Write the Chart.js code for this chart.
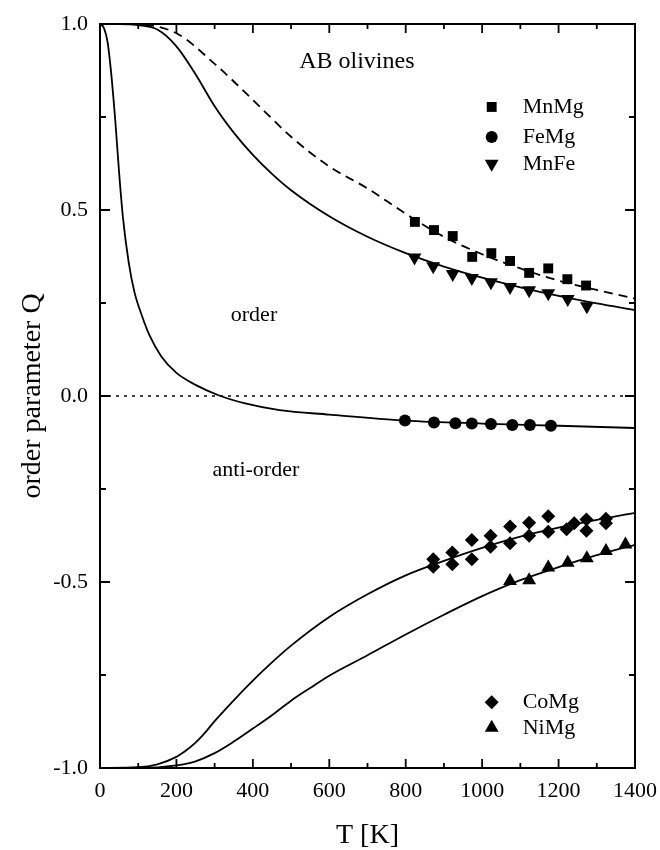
<!DOCTYPE html>
<html>
<head>
<meta charset="utf-8">
<title>AB olivines - order parameter Q</title>
<script src="https://cdn.jsdelivr.net/npm/chart.js@4.4.1/dist/chart.umd.min.js"></script>
<style>
  html, body { margin: 0; padding: 0; background: #fff; }
  #chart { display: block; }
</style>
</head>
<body>
<canvas id="chart" width="660" height="850"></canvas>
<script>
// measured points, T in K and order parameter Q
const mnMgT = [824, 874, 923, 974, 1024, 1073, 1123, 1173, 1223, 1272];
const mnMgQ = [0.468, 0.446, 0.430, 0.374, 0.384, 0.363, 0.331, 0.343, 0.314, 0.297];
const feMgT = [798, 874, 930, 973, 1023, 1079, 1125, 1180];
const feMgQ = [-0.066, -0.071, -0.073, -0.074, -0.075, -0.078, -0.078, -0.080];
const mnFeT = [823, 872, 923, 973, 1023, 1073, 1123, 1173, 1224, 1274];
const mnFeQ = [0.372, 0.349, 0.328, 0.317, 0.306, 0.293, 0.284, 0.276, 0.261, 0.241];
const coMgT = [872, 872, 922, 922, 973, 973, 1022, 1022, 1073, 1073, 1123, 1123, 1173, 1173, 1221, 1241, 1273, 1273, 1324, 1324];
const coMgQ = [-0.439, -0.459, -0.421, -0.452, -0.387, -0.439, -0.376, -0.405, -0.351, -0.396,
               -0.341, -0.376, -0.323, -0.365, -0.358, -0.342, -0.332, -0.362, -0.330, -0.342];
const niMgT = [1073, 1123, 1173, 1224, 1274, 1324, 1375];
const niMgQ = [-0.497, -0.495, -0.461, -0.448, -0.436, -0.417, -0.399];

// model curves
const mnMgFitT = [0, 100, 200, 300, 400, 500, 600, 700, 800, 900, 1000, 1100, 1200, 1300, 1400];
const mnMgFitQ = [1, 0.999, 0.975, 0.893, 0.796, 0.697, 0.617, 0.558, 0.490, 0.428, 0.381, 0.343, 0.310, 0.285, 0.262];
const mnFeFitT = [0, 50, 100, 150, 200, 250, 300, 350, 400, 450, 500, 600, 700, 800, 900, 1000, 1100, 1200, 1300, 1400];
const mnFeFitQ = [1, 1, 0.997, 0.985, 0.94, 0.865, 0.779, 0.708, 0.648, 0.597, 0.553, 0.483, 0.428, 0.384, 0.348, 0.318, 0.292, 0.269, 0.249, 0.231];
const feMgFitT = [0, 10, 20, 30, 40, 50, 60, 75, 90, 110, 130, 160, 200, 250, 310, 380, 470, 600, 800, 1000, 1200, 1400];
const feMgFitQ = [1, 0.99, 0.95, 0.86, 0.74, 0.6, 0.48, 0.36, 0.28, 0.215, 0.162, 0.107, 0.062, 0.03, 0.002,
                  -0.02, -0.038, -0.05, -0.066, -0.074, -0.080, -0.086];
const coMgFitT = [0, 100, 150, 200, 225, 250, 275, 300, 350, 400, 450, 500, 600, 700, 800, 900, 1000, 1100, 1200, 1300, 1400];
const coMgFitQ = [-1, -0.998, -0.99, -0.97, -0.953, -0.932, -0.905, -0.874, -0.818, -0.765, -0.716, -0.671, -0.594,
                  -0.533, -0.482, -0.443, -0.408, -0.378, -0.354, -0.333, -0.314];
const niMgFitT = [0, 100, 200, 250, 300, 350, 400, 450, 500, 550, 600, 700, 800, 900, 1000, 1100, 1200, 1300, 1400];
const niMgFitQ = [-1, -1, -0.993, -0.982, -0.96, -0.929, -0.894, -0.858, -0.819, -0.785, -0.752, -0.697, -0.641,
                  -0.588, -0.538, -0.495, -0.46, -0.428, -0.4];
const zeroT = [0, 1400];
const zeroQ = [0, 0];

// ticks
const xMajor = [0, 200, 400, 600, 800, 1000, 1200, 1400];
const xMinor = [100, 300, 500, 700, 900, 1100, 1300];
const yMajor = [-1, -0.5, 0, 0.5, 1];
const yMinor = [-0.75, -0.25, 0.25, 0.75];

// text placed in data coordinates
const notes = [
  { text: 'AB olivines', t: 672, q: 0.898, size: 24 },
  { text: 'order', t: 403, q: 0.218, size: 22 },
  { text: 'anti-order', t: 408, q: -0.199, size: 22 },
];
const legendRows = [
  { label: 'MnMg', style: 'rect', radius: 7, rotation: 0, t: 1025, q: 0.777 },
  { label: 'FeMg', style: 'circle', radius: 6, rotation: 0, t: 1025, q: 0.696 },
  { label: 'MnFe', style: 'triangle', radius: 8, rotation: 180, t: 1025, q: 0.624 },
  { label: 'CoMg', style: 'rectRot', radius: 7, rotation: 0, t: 1025, q: -0.823 },
  { label: 'NiMg', style: 'triangle', radius: 8, rotation: 0, t: 1025, q: -0.892 },
];

const FONT = '"Liberation Serif", "Times New Roman", serif';
const pts = (xs, ys) => xs.map((v, i) => ({ x: v, y: ys[i] }));

function markers(label, xs, ys, style, radius, rotation) {
  return {
    label, data: pts(xs, ys), showLine: false,
    pointStyle: style, pointRadius: radius, pointRotation: rotation || 0,
    pointBackgroundColor: '#000', pointBorderColor: '#000', pointBorderWidth: 0,
  };
}
function curve(label, xs, ys, dash, width) {
  return {
    label, data: pts(xs, ys), showLine: true, pointRadius: 0,
    borderColor: '#000', borderWidth: width || 1.8, borderDash: dash || [],
    cubicInterpolationMode: 'monotone', fill: false,
  };
}

const frame = {
  id: 'frame',
  afterDraw(chart) {
    const { ctx, chartArea: a, scales: { x, y } } = chart;
    ctx.save();
    ctx.strokeStyle = '#000';
    ctx.lineWidth = 2;
    ctx.strokeRect(a.left, a.top, a.right - a.left, a.bottom - a.top);

    ctx.lineWidth = 1.8;
    ctx.beginPath();
    const xt = (v, len) => {
      const px = x.getPixelForValue(v);
      ctx.moveTo(px, a.bottom); ctx.lineTo(px, a.bottom - len);
      ctx.moveTo(px, a.top); ctx.lineTo(px, a.top + len);
    };
    const yt = (v, len) => {
      const py = y.getPixelForValue(v);
      ctx.moveTo(a.left, py); ctx.lineTo(a.left + len, py);
      ctx.moveTo(a.right, py); ctx.lineTo(a.right - len, py);
    };
    xMajor.forEach((v) => xt(v, 9));
    xMinor.forEach((v) => xt(v, 5));
    yMajor.forEach((v) => yt(v, 10));
    yMinor.forEach((v) => yt(v, 6));
    ctx.stroke();

    ctx.fillStyle = '#000';
    ctx.textAlign = 'center';
    ctx.textBaseline = 'middle';
    notes.forEach((n) => {
      ctx.font = n.size + 'px ' + FONT;
      ctx.fillText(n.text, x.getPixelForValue(n.t), y.getPixelForValue(n.q));
    });

    ctx.font = '22px ' + FONT;
    ctx.textAlign = 'left';
    legendRows.forEach((r) => {
      const px = x.getPixelForValue(r.t);
      const py = y.getPixelForValue(r.q);
      Chart.helpers.drawPoint(ctx, { pointStyle: r.style, radius: r.radius, rotation: r.rotation, borderWidth: 0 }, px, py);
      ctx.fillText(r.label, px + 31, py);
    });
    ctx.restore();
  },
};

new Chart(document.getElementById('chart'), {
  type: 'scatter',
  data: {
    datasets: [
      markers('MnMg', mnMgT, mnMgQ, 'rect', 7),
      markers('FeMg', feMgT, feMgQ, 'circle', 6),
      markers('MnFe', mnFeT, mnFeQ, 'triangle', 8, 180),
      markers('CoMg', coMgT, coMgQ, 'rectRot', 7),
      markers('NiMg', niMgT, niMgQ, 'triangle', 8),
      curve('MnMg fit', mnMgFitT, mnMgFitQ, [9, 6]),
      curve('MnFe fit', mnFeFitT, mnFeFitQ),
      curve('FeMg fit', feMgFitT, feMgFitQ),
      curve('CoMg fit', coMgFitT, coMgFitQ),
      curve('NiMg fit', niMgFitT, niMgFitQ),
      curve('zero', zeroT, zeroQ, [3, 5], 1.4),
    ],
  },
  options: {
    responsive: false,
    animation: false,
    layout: { padding: { top: 24, right: 25, left: 0, bottom: 0 } },
    plugins: { legend: { display: false }, tooltip: { enabled: false } },
    scales: {
      x: {
        type: 'linear', min: 0, max: 1400,
        grid: { display: false, drawTicks: false },
        border: { display: false },
        afterBuildTicks: (s) => { s.ticks = xMajor.map((v) => ({ value: v })); },
        afterFit: (s) => { s.height = 82; s.paddingLeft = 0; s.paddingRight = 0; },
        ticks: { color: '#000', padding: 10, maxRotation: 0, font: { family: FONT, size: 22 }, callback: (v) => String(v) },
        title: { display: true, text: 'T [K]', color: '#000', padding: { top: 1, bottom: 0 }, font: { family: FONT, size: 28, lineHeight: 1 } },
      },
      y: {
        type: 'linear', min: -1, max: 1,
        grid: { display: false, drawTicks: false },
        border: { display: false },
        afterBuildTicks: (s) => { s.ticks = yMajor.map((v) => ({ value: v })); },
        afterFit: (s) => { s.width = 100; s.paddingTop = 0; s.paddingBottom = 0; },
        ticks: { color: '#000', padding: 12, font: { family: FONT, size: 22 }, callback: (v) => v.toFixed(1) },
        title: { display: true, text: 'order parameter Q', color: '#000', padding: { top: 19, bottom: 0 }, font: { family: FONT, size: 28, lineHeight: 1 } },
      },
    },
  },
  plugins: [frame],
});
</script>
</body>
</html>
